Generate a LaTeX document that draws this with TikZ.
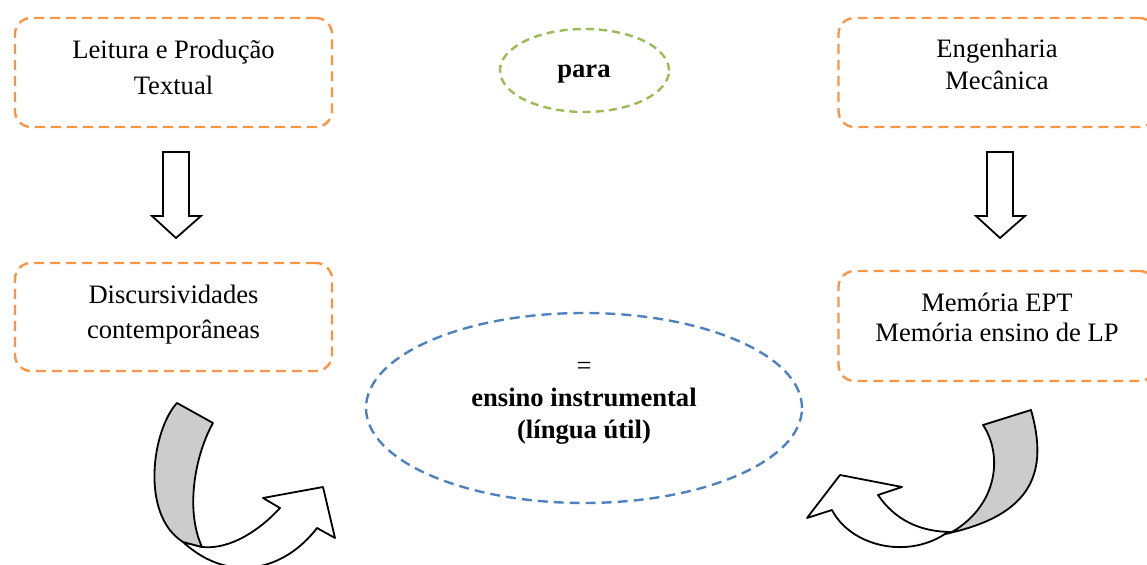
\documentclass[tikz,border=0pt]{standalone}
\usepackage{fontspec}
\setmainfont{Liberation Serif}
\usetikzlibrary{shapes.geometric}
\definecolor{boxorange}{HTML}{F79646}
\definecolor{ovalgreen}{HTML}{9BBB59}
\definecolor{ovalblue}{HTML}{4F81BD}
\definecolor{bandgray}{HTML}{CCCCCC}
\tikzset{
  topicbox/.style={draw=boxorange, line width=1.2pt, dash pattern=on 5pt off 3pt,
    rounded corners=8pt, minimum width=158.5pt, minimum height=54.5pt, inner sep=0pt},
  boxtext/.style={align=center, inner sep=0pt, font=\fontsize{13.3}{#1}\selectfont},
  boxtext/.default=17pt,
  greenoval/.style={ellipse, draw=ovalgreen, line width=1.2pt, dash pattern=on 4pt off 2.6pt,
    minimum width=84.5pt, minimum height=41.5pt, inner sep=0pt},
  blueoval/.style={ellipse, draw=ovalblue, line width=1.2pt, dash pattern=on 5pt off 3pt,
    minimum width=218pt, minimum height=95pt, inner sep=0pt},
  blockarrow/.style={draw=black, line width=0.9pt, fill=white, line join=miter},
  bandfill/.style={draw=black, line width=0.9pt, fill=bandgray, line join=round},
}
\begin{document}
\begin{tikzpicture}[x=0.5pt,y=-0.5pt]
\useasboundingbox (0,0) rectangle (1147,565);
\clip (0,0) rectangle (1147,565);

% orange topic boxes
\node[topicbox] (leitura) at (173.5,72.5) {};
\node[topicbox, minimum height=54pt] (discurso) at (173.5,317) {};
\node[topicbox] (engenharia) at (997,72.5) {};
\node[topicbox, minimum height=55pt] (memoria) at (997,326) {};

\node[boxtext=18pt] (leituraT) at (173.5,67) {Leitura e Produção\\Textual};
\node[boxtext=17.5pt] (discursoT) at (173.5,314.5) {Discursividades\\contemporâneas};
\node[boxtext=16pt] (engenhariaT) at (997,64) {Engenharia\\Mecânica};
\node[boxtext=15pt] (memoriaT) at (997,317.5) {Memória EPT\\Memória ensino de LP};

% ovals
\node[greenoval] (para) at (584.5,70.5) {};
\node[boxtext, font=\fontsize{13.3}{16}\selectfont\bfseries] (paraT) at (584,74) {para};

\node[blueoval] (ensino) at (584,408) {};
\node[boxtext=16pt] (ensinoT) at (584,403)
  {=\\\bfseries ensino instrumental\\\bfseries (língua útil)};

% straight block arrows
\draw[blockarrow] (163,152) -- (189,152) -- (189,216) -- (201,216) -- (176,238)
  -- (152,216) -- (163,216) -- cycle;
\draw[blockarrow] (987,152) -- (1013,152) -- (1013,216) -- (1025,216) -- (1000,238)
  -- (976,216) -- (987,216) -- cycle;

% left curved arrow: white head part, then grey band
\draw[blockarrow, line join=round] (202,547) .. controls (230,550) and (260,530) .. (280,508)
  -- (263,498) -- (323,487) -- (335,538) -- (317,528)
  .. controls (285,570) and (230,585) .. (183,542) -- cycle;
\draw[bandfill] (177,403) .. controls (152,430) and (140,515) .. (183,542)
  -- (202,547) .. controls (185,510) and (195,455) .. (213,423) -- cycle;

% right curved arrow: white head part, then grey band
\draw[blockarrow, line join=round] (952,532) .. controls (920,532) and (895,520) .. (878,495)
  -- (902,487) -- (840,475) -- (807,518) -- (832,510)
  .. controls (850,545) and (905,560) .. (945,534) -- cycle;
\draw[bandfill] (983,425) .. controls (1003,455) and (998,505) .. (952,532)
  -- (945,534) .. controls (1035,515) and (1048,470) .. (1031,410) -- cycle;
\end{tikzpicture}
\end{document}
